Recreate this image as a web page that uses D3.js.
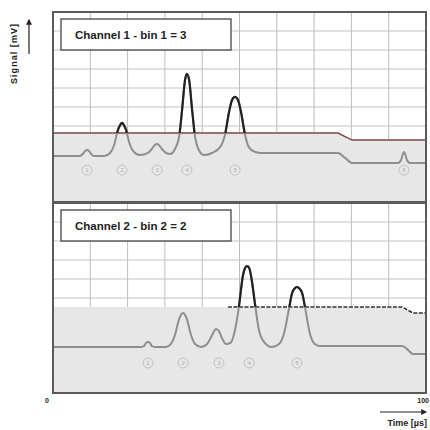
<!DOCTYPE html>
<html lang="en">
<head>
<meta charset="utf-8">
<title>Channel signals</title>
<script src="https://d3js.org/d3.v7.min.js"></script>
<style>
    body { margin: 0; background: #fff; }
    svg { display: block; }
    text { font-family: "Liberation Sans", Arial, sans-serif; }
    .box-title { font-size: 11.5px; font-weight: bold; fill: #222; }
    .small { font-size: 7px; font-weight: bold; fill: #222; }
    .axis-label { font-size: 9px; font-weight: bold; fill: #222; }
    .peak-num { font-size: 5.5px; fill: #aaa; text-anchor: middle; }
</style>
</head>
<body>
<script>

// ---- data (time in µs, signal in mV) ----
let titles = ["Channel 1 - bin 1 = 3", "Channel 2 - bin 2 = 2"];

let time1 = [0, 7.2, 8.0, 8.6, 9.1, 9.7, 10.2, 11.0, 13.7, 15.3, 16.4, 17.4, 18.0, 18.5, 19.0, 19.6, 20.4, 21.5,
             23.3, 25.5, 26.5, 27.3, 27.9, 28.4, 29.2, 30.3, 31.4, 32.7, 33.8, 34.6, 35.4, 35.9, 36.5, 37.3, 38.1,
             39.1, 40.5, 42.6, 44.8, 46.1, 47.2, 48.0, 48.8, 49.6, 50.4, 51.5, 52.5, 54.2, 56.0, 76.4, 78.3, 80.2,
             92.5, 93.3, 93.8, 94.1, 94.4, 94.9, 95.7, 100];
let signal1 = [2.42, 2.42, 2.53, 2.68, 2.74, 2.68, 2.53, 2.42, 2.42, 2.58, 3.0, 3.79, 4.05, 4.16, 4.05, 3.79, 3.16, 2.68,
               2.47, 2.58, 2.79, 3.0, 3.05, 3.0, 2.79, 2.58, 2.53, 2.79, 3.42, 4.84, 6.42, 6.74, 6.42, 4.84, 3.42,
               2.74, 2.47, 2.58, 2.89, 3.53, 4.74, 5.37, 5.53, 5.37, 4.74, 3.53, 2.89, 2.63, 2.58, 2.58, 2.32, 2.05,
               2.05, 2.21, 2.53, 2.63, 2.53, 2.21, 2.05, 2.05];

let time2 = [0, 23.3, 24.4, 24.9, 25.5, 26.0, 26.5, 27.6, 30.3, 31.6, 32.7, 33.8, 34.3, 34.9, 35.4, 35.9, 37.0, 38.1,
             39.7, 41.3, 42.4, 43.2, 43.7, 44.5, 45.3, 46.4, 47.5, 48.8, 49.9, 50.9, 51.5, 52.0, 52.6, 53.1, 54.2,
             55.2, 56.6, 58.7, 60.6, 61.9, 63.3, 64.1, 64.9, 65.4, 65.9, 66.8, 67.6, 68.9, 70.2, 71.6, 93.6, 95.2,
             96.5, 100];
let signal2 = [2.42, 2.42, 2.47, 2.63, 2.68, 2.63, 2.47, 2.42, 2.42, 2.58, 3.05, 3.89, 4.11, 4.21, 4.11, 3.89, 3.05, 2.58,
               2.42, 2.58, 2.95, 3.26, 3.37, 3.26, 2.89, 2.58, 2.63, 3.32, 4.63, 6.16, 6.58, 6.68, 6.58, 6.16, 4.63,
               3.32, 2.68, 2.42, 2.58, 3.11, 4.47, 5.26, 5.53, 5.58, 5.53, 5.26, 4.47, 3.11, 2.58, 2.47, 2.47, 2.26,
               2.05, 2.05];

// threshold (discriminator level) per channel
let threshTime1 = [0, 76.4, 80.2, 100];
let threshLevel1 = [3.63, 3.63, 3.26, 3.26];
let threshTime2 = [0, 93.6, 96.5, 100];
let threshLevel2 = [4.53, 4.53, 4.21, 4.21];
let threshLineStart = [0, 46.9];   // where the drawn threshold line begins

// numbered peak markers
let peakTime1 = [9.1, 18.5, 27.9, 35.9, 48.8, 94.1];
let peakTime2 = [25.5, 34.9, 44.5, 52.6, 65.4];
let markerLevel = [1.68, 1.58];

let xTicks = [0, 100];

// ---- layout ----
let W = 430, H = 430;
let left = 53, right = 426;
let panels = [
    { top: 12, bottom: 202 },
    { top: 203, bottom: 393 }
];

let svg = d3.select("body").append("svg")
    .attr("width", W)
    .attr("height", H);

let defs = svg.append("defs");
defs.append("marker")
    .attr("id", "arrow")
    .attr("viewBox", "0 0 10 10")
    .attr("refX", 8).attr("refY", 5)
    .attr("markerWidth", 5).attr("markerHeight", 5)
    .attr("orient", "auto")
    .append("path")
    .attr("d", "M0,0 L10,5 L0,10 z")
    .attr("fill", "#222");

let xScale = d3.scaleLinear().domain([0, 100]).range([left, right]);

let channels = [
    { time: time1, sig: signal1, tt: threshTime1, tl: threshLevel1, peaks: peakTime1 },
    { time: time2, sig: signal2, tt: threshTime2, tl: threshLevel2, peaks: peakTime2 }
];

channels.forEach((ch, i) => {
    let p = panels[i];
    let yScale = d3.scaleLinear().domain([0, 10]).range([p.bottom, p.top]);
    let g = svg.append("g");

    let sigData = ch.time.map((t, k) => ({ t: t, v: ch.sig[k] }));
    let thrData = ch.tt.map((t, k) => ({ t: t, v: ch.tl[k] }));

    // grid
    g.selectAll("line.vgrid")
        .data(d3.range(1, 10))
        .enter().append("line")
        .attr("x1", d => xScale(d * 10)).attr("x2", d => xScale(d * 10))
        .attr("y1", p.top).attr("y2", p.bottom)
        .attr("stroke", "#bdbdbd").attr("stroke-width", 1);
    g.selectAll("line.hgrid")
        .data(d3.range(1, 10))
        .enter().append("line")
        .attr("x1", left).attr("x2", right)
        .attr("y1", d => yScale(d)).attr("y2", d => yScale(d))
        .attr("stroke", "#c4c4c4").attr("stroke-width", 1);

    // grey region under threshold
    let area = d3.area()
        .x(d => xScale(d.t))
        .y0(p.bottom)
        .y1(d => yScale(d.v));
    g.append("path")
        .datum(thrData)
        .attr("d", area)
        .attr("fill", "#e7e7e7");

    // clip: part of the signal above threshold
    let clipArea = d3.area()
        .x(d => xScale(d.t))
        .y0(p.top)
        .y1(d => yScale(d.v));
    defs.append("clipPath")
        .attr("id", "above" + i)
        .append("path")
        .datum(thrData)
        .attr("d", clipArea);

    // threshold line
    let thrLine = d3.line().x(d => xScale(d.t)).y(d => yScale(d.v));
    let thrDrawn = thrData.filter(d => d.t >= threshLineStart[i]);
    thrDrawn.unshift({ t: threshLineStart[i], v: ch.tl[0] });
    g.append("path")
        .datum(thrDrawn)
        .attr("d", thrLine)
        .attr("fill", "none")
        .attr("stroke", i === 0 ? "#7c4444" : "#333")
        .attr("stroke-width", 1.5)
        .attr("stroke-dasharray", i === 0 ? null : "4,1.5");

    // signal
    let line = d3.line()
        .curve(d3.curveMonotoneX)
        .x(d => xScale(d.t))
        .y(d => yScale(d.v));
    g.append("path")
        .datum(sigData)
        .attr("d", line)
        .attr("fill", "none")
        .attr("stroke", "#8e8e8e")
        .attr("stroke-width", 2);
    g.append("path")
        .datum(sigData)
        .attr("d", line)
        .attr("clip-path", "url(#above" + i + ")")
        .attr("fill", "none")
        .attr("stroke", "#222")
        .attr("stroke-width", 2.2);

    // numbered markers
    let mk = g.selectAll("g.marker")
        .data(ch.peaks)
        .enter().append("g")
        .attr("transform", d => "translate(" + xScale(d) + "," + yScale(markerLevel[i]) + ")");
    mk.append("circle")
        .attr("r", 5)
        .attr("fill", "none")
        .attr("stroke", "#b8b8b8")
        .attr("stroke-width", 0.8);
    mk.append("text")
        .attr("class", "peak-num")
        .attr("y", 2)
        .text((d, k) => k + 1);

    // frame
    g.append("rect")
        .attr("x", left).attr("y", p.top)
        .attr("width", right - left).attr("height", p.bottom - p.top)
        .attr("fill", "none")
        .attr("stroke", "#5a5a5a")
        .attr("stroke-width", 2);

    // title box
    g.append("rect")
        .attr("x", 61).attr("y", p.top + 7)
        .attr("width", 170).attr("height", 31)
        .attr("fill", "#fff")
        .attr("stroke", "#444")
        .attr("stroke-width", 1.3);
    g.append("text")
        .attr("class", "box-title")
        .attr("x", 75).attr("y", p.top + 27)
        .text(titles[i]);
});

// y axis label with arrow
svg.append("text")
    .attr("class", "axis-label")
    .attr("transform", "translate(17,84) rotate(-90)")
    .attr("textLength", 60)
    .text("Signal [mV]");
svg.append("line")
    .attr("x1", 29).attr("x2", 29)
    .attr("y1", 54).attr("y2", 20)
    .attr("stroke", "#222").attr("stroke-width", 1.2)
    .attr("marker-end", "url(#arrow)");

// x tick labels and label
svg.selectAll("text.xtick")
    .data(xTicks)
    .enter().append("text")
    .attr("class", "small")
    .attr("x", d => d === 0 ? xScale(d) - 8 : 429)
    .attr("y", 403)
    .attr("text-anchor", d => d === 0 ? "start" : "end")
    .text(d => d);
svg.append("line")
    .attr("x1", 380).attr("x2", 426)
    .attr("y1", 412).attr("y2", 412)
    .attr("stroke", "#222").attr("stroke-width", 1.2)
    .attr("marker-end", "url(#arrow)");
svg.append("text")
    .attr("class", "axis-label")
    .attr("x", 427).attr("y", 426)
    .attr("text-anchor", "end")
    .text("Time [µs]");

</script>
</body>
</html>
